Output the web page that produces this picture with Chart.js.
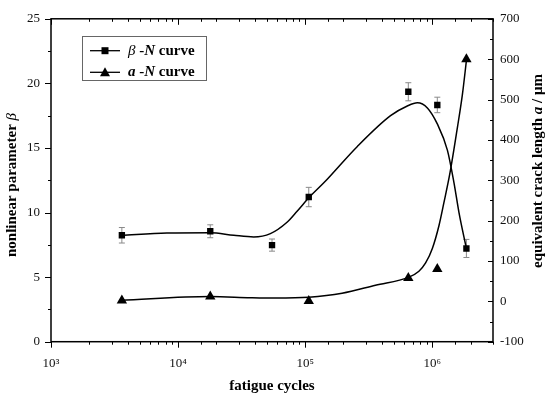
<!DOCTYPE html>
<html>
<head>
<meta charset="utf-8">
<script src="https://cdn.jsdelivr.net/npm/chart.js@4.4.0/dist/chart.umd.min.js"></script>
<style>
  body { margin: 0; background: #fff; }
  canvas { display: block; }
</style>
</head>
<body>
<canvas id="myChart" width="550" height="399"></canvas>
<script>
// measured points (fatigue cycles N)
const cyclesBeta = [3610, 17900, 54800, 106600, 647000, 1094000, 1853000];
const betaValues = [8.24, 8.55, 7.48, 11.2, 19.35, 18.33, 7.22];
const betaErrors = [0.6, 0.5, 0.47, 0.75, 0.7, 0.6, 0.7];

const cyclesCrack = [3610, 17900, 106600, 647000, 1094000, 1853000];
const crackValues = [2, 12, 1, 58, 80, 600];

// fitted curves
const betaFitCycles = [3565, 8170, 17900, 27400, 39300, 53200, 71900, 86300, 108000, 140000, 256000, 469000, 635000, 762000, 914000, 1094000, 1313000, 1480000, 1620000, 1853000];
const betaFitValues = [8.24, 8.42, 8.44, 8.24, 8.11, 8.37, 9.25, 10.1, 11.2, 12.3, 15.1, 17.5, 18.25, 18.5, 18.1, 16.86, 14.83, 12.3, 10.0, 7.22];

const crackFitCycles = [3565, 17900, 37000, 58200, 106600, 195000, 357000, 655000, 784000, 885000, 1000000, 1128000, 1234000, 1376000, 1575000, 1723000, 1862000];
const crackFitValues = [3, 12, 9, 8, 10, 20, 40, 60, 74.5, 95, 131, 188, 245, 318, 431, 512, 602];

const leftTicks = [0, 5, 10, 15, 20, 25];
const rightTicks = [-100, 0, 100, 200, 300, 400, 500, 600, 700];

const FONT = "'Liberation Serif', 'Times New Roman', serif";
const sup = { 3: '³', 4: '⁴', 5: '⁵', 6: '⁶' };

function zip(xs, ys) {
  return xs.map((x, i) => ({ x: x, y: ys[i] }));
}

function isDecade(v) {
  const e = Math.log10(v);
  return Math.abs(e - Math.round(e)) < 1e-9;
}

// gray error bars on the beta points
const errorBars = {
  id: 'errorBars',
  beforeDatasetsDraw(chart) {
    const ctx = chart.ctx;
    const xs = chart.scales.x;
    const ys = chart.scales.y;
    ctx.save();
    ctx.strokeStyle = '#8a8a8a';
    ctx.lineWidth = 1;
    cyclesBeta.forEach((n, i) => {
      const px = xs.getPixelForValue(n);
      const top = ys.getPixelForValue(betaValues[i] + betaErrors[i]);
      const bot = ys.getPixelForValue(betaValues[i] - betaErrors[i]);
      ctx.beginPath();
      ctx.moveTo(px, top); ctx.lineTo(px, bot);
      ctx.moveTo(px - 3, top); ctx.lineTo(px + 3, top);
      ctx.moveTo(px - 3, bot); ctx.lineTo(px + 3, bot);
      ctx.stroke();
    });
    ctx.restore();
  }
};

function drawParts(ctx, parts, x, y) {
  parts.forEach((p) => {
    ctx.font = p[1] + ' 15px ' + FONT;
    ctx.fillText(p[0], x, y);
    x += ctx.measureText(p[0]).width;
  });
  return x;
}

function partsWidth(ctx, parts) {
  let w = 0;
  parts.forEach((p) => {
    ctx.font = p[1] + ' 15px ' + FONT;
    w += ctx.measureText(p[0]).width;
  });
  return w;
}

// frame, tick marks, axis titles and legend
const decorations = {
  id: 'decorations',
  afterDraw(chart) {
    const ctx = chart.ctx;
    const a = chart.chartArea;
    const xs = chart.scales.x;
    const ys = chart.scales.y;
    const y2 = chart.scales.y2;
    ctx.save();
    ctx.strokeStyle = '#000';
    ctx.lineWidth = 1.5;
    ctx.strokeRect(a.left, a.top, a.right - a.left, a.bottom - a.top);

    ctx.lineWidth = 1;
    ctx.beginPath();
    for (let v = 0; v <= 25; v += 2.5) {
      const py = Math.round(ys.getPixelForValue(v)) + 0.5;
      const len = v % 5 === 0 ? 6 : 3;
      ctx.moveTo(a.left, py); ctx.lineTo(a.left - len, py);
    }
    for (let v = -100; v <= 700; v += 50) {
      const py = Math.round(y2.getPixelForValue(v)) + 0.5;
      const len = v % 100 === 0 ? 5 : 3;
      ctx.moveTo(a.right, py); ctx.lineTo(a.right - len, py);
    }
    xs.ticks.forEach((t) => {
      const px = Math.round(xs.getPixelForValue(t.value)) + 0.5;
      const len = isDecade(t.value) ? 6 : 3;
      ctx.moveTo(px, a.bottom); ctx.lineTo(px, a.bottom + len);
      ctx.moveTo(px, a.top); ctx.lineTo(px, a.top + len);
    });
    ctx.stroke();

    ctx.fillStyle = '#000';
    ctx.textBaseline = 'middle';

    // bottom title
    ctx.textAlign = 'center';
    ctx.font = 'bold 15px ' + FONT;
    ctx.fillText('fatigue cycles', (a.left + a.right) / 2, 386);

    // left title
    ctx.textAlign = 'left';
    const leftParts = [['nonlinear parameter ', 'bold'], ['β', 'italic']];
    ctx.save();
    ctx.translate(12.5, 185);
    ctx.rotate(-Math.PI / 2);
    drawParts(ctx, leftParts, -partsWidth(ctx, leftParts) / 2, 0);
    ctx.restore();

    // right title, reading upward
    const rightParts = [['equivalent crack length ', 'bold'], ['a', 'bold italic'], [' / μm', 'bold']];
    ctx.save();
    ctx.translate(538, 171);
    ctx.rotate(-Math.PI / 2);
    drawParts(ctx, rightParts, -partsWidth(ctx, rightParts) / 2, 0);
    ctx.restore();

    // legend
    ctx.strokeStyle = '#666';
    ctx.lineWidth = 1;
    ctx.strokeRect(82.5, 36.5, 124, 44);
    ctx.strokeStyle = '#000';
    const rows = [
      { y: 50.7, marker: 'rect', parts: [['β', 'italic'], [' -', 'bold'], ['N', 'bold italic'], [' curve', 'bold']] },
      { y: 72.3, marker: 'triangle', parts: [['a', 'bold italic'], [' -', 'bold'], ['N', 'bold italic'], [' curve', 'bold']] }
    ];
    rows.forEach((r) => {
      ctx.lineWidth = 1.3;
      ctx.beginPath();
      ctx.moveTo(90, r.y); ctx.lineTo(120, r.y);
      ctx.stroke();
      ctx.beginPath();
      if (r.marker === 'rect') {
        ctx.rect(101.5, r.y - 3.5, 7, 7);
      } else {
        ctx.moveTo(105, r.y - 5); ctx.lineTo(110, r.y + 4); ctx.lineTo(100, r.y + 4); ctx.closePath();
      }
      ctx.fill();
      drawParts(ctx, r.parts, 128, r.y);
    });
    ctx.restore();
  }
};

const ctx = document.getElementById('myChart').getContext('2d');
new Chart(ctx, {
  type: 'line',
  data: {
    datasets: [{
      label: 'beta fit',
      data: zip(betaFitCycles, betaFitValues),
      borderColor: '#000',
      borderWidth: 1.5,
      pointRadius: 0,
      cubicInterpolationMode: 'monotone',
      yAxisID: 'y'
    }, {
      label: 'β -N curve',
      data: zip(cyclesBeta, betaValues),
      showLine: false,
      pointStyle: 'rect',
      pointRadius: 4.5,
      backgroundColor: '#000',
      borderColor: '#000',
      borderWidth: 0,
      yAxisID: 'y'
    }, {
      label: 'a fit',
      data: zip(crackFitCycles, crackFitValues),
      borderColor: '#000',
      borderWidth: 1.5,
      pointRadius: 0,
      cubicInterpolationMode: 'monotone',
      yAxisID: 'y2'
    }, {
      label: 'a -N curve',
      data: zip(cyclesCrack, crackValues),
      showLine: false,
      pointStyle: 'triangle',
      pointRadius: 6,
      backgroundColor: '#000',
      borderColor: '#000',
      borderWidth: 0,
      yAxisID: 'y2'
    }]
  },
  options: {
    responsive: false,
    animation: false,
    devicePixelRatio: 1,
    layout: { padding: { top: 13, left: 0, right: 0, bottom: 0 } },
    plugins: {
      legend: { display: false },
      tooltip: { enabled: false }
    },
    scales: {
      x: {
        type: 'logarithmic',
        min: 1000,
        max: 3000000,
        grid: { display: false, drawTicks: false },
        border: { display: false },
        ticks: {
          autoSkip: false,
          maxRotation: 0,
          padding: 14,
          color: '#111',
          font: { family: FONT, size: 13 },
          callback: (v) => isDecade(v) ? '10' + sup[Math.round(Math.log10(v))] : ''
        },
        afterFit: (s) => { s.height = 57.3; }
      },
      y: {
        position: 'left',
        min: 0,
        max: 25,
        grid: { display: false, drawTicks: false },
        border: { display: false },
        afterBuildTicks: (s) => { s.ticks = leftTicks.map(v => ({ value: v })); },
        ticks: { padding: 11, color: '#111', font: { family: FONT, size: 13 } },
        afterFit: (s) => { s.width = 51; }
      },
      y2: {
        position: 'right',
        min: -100,
        max: 700,
        grid: { display: false, drawTicks: false },
        border: { display: false },
        afterBuildTicks: (s) => { s.ticks = rightTicks.map(v => ({ value: v })); },
        ticks: { padding: 7, color: '#111', font: { family: FONT, size: 13 } },
        afterFit: (s) => { s.width = 57; }
      }
    }
  },
  plugins: [errorBars, decorations]
});
</script>
</body>
</html>
